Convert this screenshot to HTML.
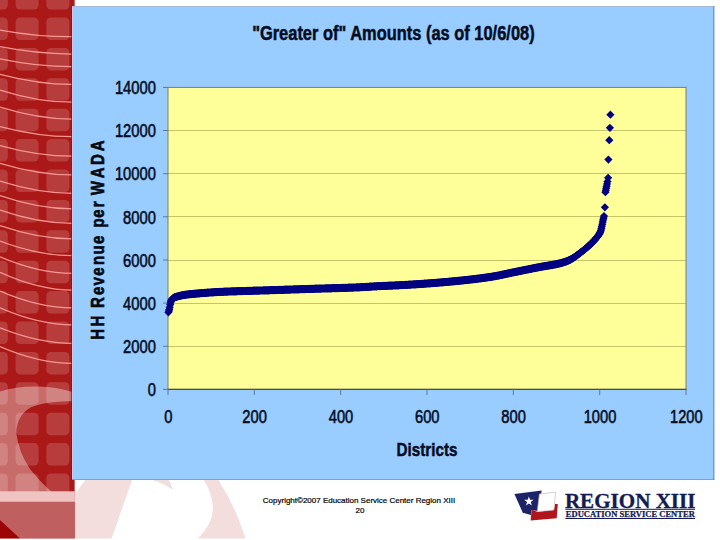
<!DOCTYPE html>
<html lang="en"><head><meta charset="utf-8"><title>"Greater of" Amounts (as of 10/6/08)</title>
<style>
html,body{margin:0;padding:0;background:#fff;}
body{width:720px;height:540px;overflow:hidden;font-family:"Liberation Sans",Arial,sans-serif;}
svg{display:block;}
.sans{font-family:"Liberation Sans",Arial,sans-serif;}
.serif{font-family:"Liberation Serif","Times New Roman",serif;}
</style></head>
<body>
<svg width="720" height="540" viewBox="0 0 720 540">
<defs>
<clipPath id="sbclip"><rect x="0" y="0" width="74.8" height="538.5"/></clipPath>
<marker id="dm" markerWidth="8" markerHeight="8" refX="4" refY="4" markerUnits="userSpaceOnUse" overflow="visible">
<path d="M4 -0.1 L8.1 4 L4 8.1 L-0.1 4 Z" fill="#000080"/></marker>
</defs>
<rect width="720" height="540" fill="#ffffff"/>

<!-- faint watermark in the white footer -->
<g fill="#f3dddd">
<path d="M85.3 480 L132 480 L111.5 538.5 L75 538.5 L75 494 Z"/>
<path d="M152.4 480 L168.6 480 Q171.5 484 172.8 489.8 Q164 483.5 152.4 480 Z"/>
<path d="M203.8 480 L218.4 480 Q236 508 245.6 538.5 L198 538.5 Q214.5 522 212.8 505 Q211 491 203.8 480 Z"/>
</g>

<!-- red sidebar -->
<g clip-path="url(#sbclip)">
<rect x="0" y="0" width="74.8" height="538.5" fill="#aa1917"/>
<g fill="#ffffff" fill-opacity="0.16"><rect x="-15.2" y="-12.9" width="23.0" height="22.5" rx="4.5"/><rect x="-15.2" y="17.5" width="23.0" height="22.5" rx="4.5"/><rect x="-15.2" y="47.9" width="23.0" height="22.5" rx="4.5"/><rect x="-15.2" y="78.3" width="23.0" height="22.5" rx="4.5"/><rect x="-15.2" y="108.7" width="23.0" height="22.5" rx="4.5"/><rect x="-15.2" y="139.1" width="23.0" height="22.5" rx="4.5"/><rect x="-15.2" y="169.5" width="23.0" height="22.5" rx="4.5"/><rect x="-15.2" y="199.9" width="23.0" height="22.5" rx="4.5"/><rect x="-15.2" y="230.3" width="23.0" height="22.5" rx="4.5"/><rect x="-15.2" y="260.7" width="23.0" height="22.5" rx="4.5"/><rect x="-15.2" y="291.1" width="23.0" height="22.5" rx="4.5"/><rect x="-15.2" y="321.5" width="23.0" height="22.5" rx="4.5"/><rect x="-15.2" y="351.9" width="23.0" height="22.5" rx="4.5"/><rect x="-15.2" y="382.3" width="23.0" height="22.5" rx="4.5"/><rect x="-15.2" y="412.7" width="23.0" height="22.5" rx="4.5"/><rect x="-15.2" y="443.1" width="23.0" height="22.5" rx="4.5"/><rect x="-15.2" y="473.5" width="23.0" height="22.5" rx="4.5"/><rect x="-15.2" y="503.9" width="23.0" height="22.5" rx="4.5"/><rect x="-15.2" y="534.3" width="23.0" height="22.5" rx="4.5"/><rect x="15.6" y="-12.9" width="23.0" height="22.5" rx="4.5"/><rect x="15.6" y="17.5" width="23.0" height="22.5" rx="4.5"/><rect x="15.6" y="47.9" width="23.0" height="22.5" rx="4.5"/><rect x="15.6" y="78.3" width="23.0" height="22.5" rx="4.5"/><rect x="15.6" y="108.7" width="23.0" height="22.5" rx="4.5"/><rect x="15.6" y="139.1" width="23.0" height="22.5" rx="4.5"/><rect x="15.6" y="169.5" width="23.0" height="22.5" rx="4.5"/><rect x="15.6" y="199.9" width="23.0" height="22.5" rx="4.5"/><rect x="15.6" y="230.3" width="23.0" height="22.5" rx="4.5"/><rect x="15.6" y="260.7" width="23.0" height="22.5" rx="4.5"/><rect x="15.6" y="291.1" width="23.0" height="22.5" rx="4.5"/><rect x="15.6" y="321.5" width="23.0" height="22.5" rx="4.5"/><rect x="15.6" y="351.9" width="23.0" height="22.5" rx="4.5"/><rect x="15.6" y="382.3" width="23.0" height="22.5" rx="4.5"/><rect x="15.6" y="412.7" width="23.0" height="22.5" rx="4.5"/><rect x="15.6" y="443.1" width="23.0" height="22.5" rx="4.5"/><rect x="15.6" y="473.5" width="23.0" height="22.5" rx="4.5"/><rect x="15.6" y="503.9" width="23.0" height="22.5" rx="4.5"/><rect x="15.6" y="534.3" width="23.0" height="22.5" rx="4.5"/><rect x="46.4" y="-12.9" width="23.0" height="22.5" rx="4.5"/><rect x="46.4" y="17.5" width="23.0" height="22.5" rx="4.5"/><rect x="46.4" y="47.9" width="23.0" height="22.5" rx="4.5"/><rect x="46.4" y="78.3" width="23.0" height="22.5" rx="4.5"/><rect x="46.4" y="108.7" width="23.0" height="22.5" rx="4.5"/><rect x="46.4" y="139.1" width="23.0" height="22.5" rx="4.5"/><rect x="46.4" y="169.5" width="23.0" height="22.5" rx="4.5"/><rect x="46.4" y="199.9" width="23.0" height="22.5" rx="4.5"/><rect x="46.4" y="230.3" width="23.0" height="22.5" rx="4.5"/><rect x="46.4" y="260.7" width="23.0" height="22.5" rx="4.5"/><rect x="46.4" y="291.1" width="23.0" height="22.5" rx="4.5"/><rect x="46.4" y="321.5" width="23.0" height="22.5" rx="4.5"/><rect x="46.4" y="351.9" width="23.0" height="22.5" rx="4.5"/><rect x="46.4" y="382.3" width="23.0" height="22.5" rx="4.5"/><rect x="46.4" y="412.7" width="23.0" height="22.5" rx="4.5"/><rect x="46.4" y="443.1" width="23.0" height="22.5" rx="4.5"/><rect x="46.4" y="473.5" width="23.0" height="22.5" rx="4.5"/><rect x="46.4" y="503.9" width="23.0" height="22.5" rx="4.5"/><rect x="46.4" y="534.3" width="23.0" height="22.5" rx="4.5"/><rect x="77.2" y="-12.9" width="23.0" height="22.5" rx="4.5"/><rect x="77.2" y="17.5" width="23.0" height="22.5" rx="4.5"/><rect x="77.2" y="47.9" width="23.0" height="22.5" rx="4.5"/><rect x="77.2" y="78.3" width="23.0" height="22.5" rx="4.5"/><rect x="77.2" y="108.7" width="23.0" height="22.5" rx="4.5"/><rect x="77.2" y="139.1" width="23.0" height="22.5" rx="4.5"/><rect x="77.2" y="169.5" width="23.0" height="22.5" rx="4.5"/><rect x="77.2" y="199.9" width="23.0" height="22.5" rx="4.5"/><rect x="77.2" y="230.3" width="23.0" height="22.5" rx="4.5"/><rect x="77.2" y="260.7" width="23.0" height="22.5" rx="4.5"/><rect x="77.2" y="291.1" width="23.0" height="22.5" rx="4.5"/><rect x="77.2" y="321.5" width="23.0" height="22.5" rx="4.5"/><rect x="77.2" y="351.9" width="23.0" height="22.5" rx="4.5"/><rect x="77.2" y="382.3" width="23.0" height="22.5" rx="4.5"/><rect x="77.2" y="412.7" width="23.0" height="22.5" rx="4.5"/><rect x="77.2" y="443.1" width="23.0" height="22.5" rx="4.5"/><rect x="77.2" y="473.5" width="23.0" height="22.5" rx="4.5"/><rect x="77.2" y="503.9" width="23.0" height="22.5" rx="4.5"/><rect x="77.2" y="534.3" width="23.0" height="22.5" rx="4.5"/></g>
<g fill="none" stroke="#ffa09c" stroke-width="1.25" stroke-opacity="0.92"><path d="M0 30.0 Q 40.0 37.2 75 36.7"/><path d="M0 46.7 Q 40.0 54.5 75 54.0"/><path d="M0 58.9 Q 40.0 67.2 75 66.7"/><path d="M0 74.4 Q 40.0 84.9 75 84.4"/><path d="M0 90.0 Q 40.0 102.7 75 102.2"/><path d="M0 107.0 Q 40.0 119.5 75 119.0"/><path d="M0 126.7 Q 40.0 137.2 75 136.7"/><path d="M0 145.6 Q 40.0 156.7 75 156.2"/><path d="M0 163.3 Q 40.0 175.4 75 174.9"/><path d="M0 181.1 Q 40.0 193.8 75 193.3"/><path d="M0 195.6 Q 40.0 209.4 75 208.9"/><path d="M0 210.0 Q 40.0 223.8 75 223.3"/><path d="M0 225.6 Q 40.0 239.4 75 238.9"/><path d="M0 241.0 Q 40.0 256.1 75 255.6"/><path d="M0 256.7 Q 40.0 273.8 75 273.3"/><path d="M0 272.2 Q 40.0 290.5 75 290.0"/><path d="M0 291.0 Q 40.0 308.3 75 307.8"/><path d="M0 307.8 Q 40.0 325.3 75 324.8"/><path d="M0 327.8 Q 40.0 343.8 75 343.3"/><path d="M0 346.5 Q 40.0 363.8 75 363.3"/></g>
<!-- light swoosh overlay -->
<path d="M0 391.5 Q18 386 38 386.6 Q58 387.2 75 392.8 L75 401 Q45 401 30.5 407.5 Q16.5 416 16.3 433 Q18.5 452 30 469 Q40 482 52 492 L0 492 Z" fill="#ffffff" fill-opacity="0.36"/>
<rect x="0" y="491.3" width="75" height="10.6" fill="#f1c4c4"/>
<rect x="0" y="501.9" width="75" height="37" fill="#c05f5f"/>
<path d="M0 520 L20 538.5 L0 538.5 Z" fill="#9c0505"/>
</g>

<!-- chart area -->
<rect x="72" y="6" width="642.3" height="474" fill="#99ccff"/>
<rect x="72" y="6" width="642.3" height="1" fill="#a6bad8"/>
<rect x="72" y="479" width="642.3" height="1" fill="#7fa2c6"/>
<rect x="713.3" y="6" width="1" height="474" fill="#6a87aa"/>
<rect x="72" y="7" width="1" height="472" fill="#c4ccf2"/>
<rect x="71" y="6" width="1" height="474" fill="#7a1420" fill-opacity="0.6"/>
<rect x="168" y="87.4" width="518" height="302" fill="#ffff99"/>
<g stroke="#c4c468" stroke-width="1" shape-rendering="crispEdges"><line x1="168" x2="686" y1="346.3" y2="346.3"/><line x1="168" x2="686" y1="303.1" y2="303.1"/><line x1="168" x2="686" y1="260.0" y2="260.0"/><line x1="168" x2="686" y1="216.8" y2="216.8"/><line x1="168" x2="686" y1="173.7" y2="173.7"/><line x1="168" x2="686" y1="130.5" y2="130.5"/></g>
<rect x="168" y="87.4" width="518" height="302" fill="none" stroke="#7e7e66" stroke-width="1"/>
<line x1="167.5" x2="686.5" y1="389.4" y2="389.4" stroke="#4e4e38" stroke-width="1.2"/>
<g stroke="#5f7897" stroke-width="1"><line x1="163" x2="168" y1="389.4" y2="389.4"/><line x1="163" x2="168" y1="346.3" y2="346.3"/><line x1="163" x2="168" y1="303.1" y2="303.1"/><line x1="163" x2="168" y1="260.0" y2="260.0"/><line x1="163" x2="168" y1="216.8" y2="216.8"/><line x1="163" x2="168" y1="173.7" y2="173.7"/><line x1="163" x2="168" y1="130.5" y2="130.5"/><line x1="163" x2="168" y1="87.4" y2="87.4"/><line x1="168.0" x2="168.0" y1="389.4" y2="395"/><line x1="254.3" x2="254.3" y1="389.4" y2="395"/><line x1="340.7" x2="340.7" y1="389.4" y2="395"/><line x1="427.0" x2="427.0" y1="389.4" y2="395"/><line x1="513.3" x2="513.3" y1="389.4" y2="395"/><line x1="599.7" x2="599.7" y1="389.4" y2="395"/><line x1="686.0" x2="686.0" y1="389.4" y2="395"/></g>
<polyline points="168.4,312.3 168.9,311.0 169.3,309.4 169.7,307.3 170.2,304.7 170.6,302.6 171.0,301.0 171.5,300.1 171.9,299.5 172.3,299.0 172.7,298.6 173.2,298.2 173.6,297.8 174.0,297.6 174.5,297.4 174.9,297.2 175.3,297.1 175.8,297.0 176.2,296.8 176.6,296.7 177.1,296.6 177.5,296.5 177.9,296.4 178.4,296.2 178.8,296.1 179.2,296.0 179.7,295.9 180.1,295.8 180.5,295.7 180.9,295.6 181.4,295.5 181.8,295.4 182.2,295.3 182.7,295.2 183.1,295.1 183.5,295.0 184.0,295.0 184.4,294.9 184.8,294.8 185.3,294.8 185.7,294.7 186.1,294.6 186.6,294.6 187.0,294.5 187.4,294.5 187.9,294.4 188.3,294.4 188.7,294.3 189.2,294.3 189.6,294.2 190.0,294.2 190.4,294.1 190.9,294.1 191.3,294.1 191.7,294.0 192.2,294.0 192.6,293.9 193.0,293.9 193.5,293.9 193.9,293.8 194.3,293.8 194.8,293.7 195.2,293.7 195.6,293.7 196.1,293.6 196.5,293.6 196.9,293.6 197.4,293.5 197.8,293.5 198.2,293.4 198.6,293.4 199.1,293.4 199.5,293.3 199.9,293.3 200.4,293.2 200.8,293.2 201.2,293.2 201.7,293.1 202.1,293.1 202.5,293.1 203.0,293.0 203.4,293.0 203.8,293.0 204.3,292.9 204.7,292.9 205.1,292.9 205.6,292.8 206.0,292.8 206.4,292.8 206.8,292.7 207.3,292.7 207.7,292.7 208.1,292.6 208.6,292.6 209.0,292.6 209.4,292.5 209.9,292.5 210.3,292.5 210.7,292.5 211.2,292.4 211.6,292.4 212.0,292.4 212.5,292.3 212.9,292.3 213.3,292.3 213.8,292.3 214.2,292.2 214.6,292.2 215.1,292.2 215.5,292.1 215.9,292.1 216.3,292.1 216.8,292.1 217.2,292.0 217.6,292.0 218.1,292.0 218.5,292.0 218.9,292.0 219.4,291.9 219.8,291.9 220.2,291.9 220.7,291.9 221.1,291.9 221.5,291.8 222.0,291.8 222.4,291.8 222.8,291.8 223.3,291.8 223.7,291.7 224.1,291.7 224.5,291.7 225.0,291.7 225.4,291.7 225.8,291.6 226.3,291.6 226.7,291.6 227.1,291.6 227.6,291.6 228.0,291.6 228.4,291.5 228.9,291.5 229.3,291.5 229.7,291.5 230.2,291.5 230.6,291.5 231.0,291.4 231.5,291.4 231.9,291.4 232.3,291.4 232.8,291.4 233.2,291.4 233.6,291.4 234.0,291.3 234.5,291.3 234.9,291.3 235.3,291.3 235.8,291.3 236.2,291.3 236.6,291.3 237.1,291.2 237.5,291.2 237.9,291.2 238.4,291.2 238.8,291.2 239.2,291.2 239.7,291.2 240.1,291.1 240.5,291.1 241.0,291.1 241.4,291.1 241.8,291.1 242.2,291.1 242.7,291.1 243.1,291.0 243.5,291.0 244.0,291.0 244.4,291.0 244.8,291.0 245.3,291.0 245.7,291.0 246.1,291.0 246.6,290.9 247.0,290.9 247.4,290.9 247.9,290.9 248.3,290.9 248.7,290.9 249.2,290.9 249.6,290.8 250.0,290.8 250.4,290.8 250.9,290.8 251.3,290.8 251.7,290.8 252.2,290.8 252.6,290.8 253.0,290.7 253.5,290.7 253.9,290.7 254.3,290.7 254.8,290.7 255.2,290.7 255.6,290.7 256.1,290.7 256.5,290.6 256.9,290.6 257.4,290.6 257.8,290.6 258.2,290.6 258.6,290.6 259.1,290.6 259.5,290.6 259.9,290.5 260.4,290.5 260.8,290.5 261.2,290.5 261.7,290.5 262.1,290.5 262.5,290.5 263.0,290.5 263.4,290.4 263.8,290.4 264.3,290.4 264.7,290.4 265.1,290.4 265.6,290.4 266.0,290.4 266.4,290.3 266.9,290.3 267.3,290.3 267.7,290.3 268.1,290.3 268.6,290.3 269.0,290.3 269.4,290.3 269.9,290.2 270.3,290.2 270.7,290.2 271.2,290.2 271.6,290.2 272.0,290.2 272.5,290.2 272.9,290.1 273.3,290.1 273.8,290.1 274.2,290.1 274.6,290.1 275.1,290.1 275.5,290.1 275.9,290.0 276.3,290.0 276.8,290.0 277.2,290.0 277.6,290.0 278.1,290.0 278.5,289.9 278.9,289.9 279.4,289.9 279.8,289.9 280.2,289.9 280.7,289.9 281.1,289.9 281.5,289.8 282.0,289.8 282.4,289.8 282.8,289.8 283.3,289.8 283.7,289.8 284.1,289.8 284.6,289.7 285.0,289.7 285.4,289.7 285.8,289.7 286.3,289.7 286.7,289.7 287.1,289.7 287.6,289.6 288.0,289.6 288.4,289.6 288.9,289.6 289.3,289.6 289.7,289.6 290.2,289.6 290.6,289.5 291.0,289.5 291.5,289.5 291.9,289.5 292.3,289.5 292.8,289.5 293.2,289.5 293.6,289.4 294.0,289.4 294.5,289.4 294.9,289.4 295.3,289.4 295.8,289.4 296.2,289.4 296.6,289.3 297.1,289.3 297.5,289.3 297.9,289.3 298.4,289.3 298.8,289.3 299.2,289.3 299.7,289.2 300.1,289.2 300.5,289.2 301.0,289.2 301.4,289.2 301.8,289.2 302.2,289.2 302.7,289.1 303.1,289.1 303.5,289.1 304.0,289.1 304.4,289.1 304.8,289.1 305.3,289.1 305.7,289.0 306.1,289.0 306.6,289.0 307.0,289.0 307.4,289.0 307.9,289.0 308.3,289.0 308.7,288.9 309.2,288.9 309.6,288.9 310.0,288.9 310.4,288.9 310.9,288.9 311.3,288.9 311.7,288.8 312.2,288.8 312.6,288.8 313.0,288.8 313.5,288.8 313.9,288.8 314.3,288.8 314.8,288.7 315.2,288.7 315.6,288.7 316.1,288.7 316.5,288.7 316.9,288.7 317.4,288.7 317.8,288.7 318.2,288.6 318.7,288.6 319.1,288.6 319.5,288.6 319.9,288.6 320.4,288.6 320.8,288.6 321.2,288.6 321.7,288.5 322.1,288.5 322.5,288.5 323.0,288.5 323.4,288.5 323.8,288.5 324.3,288.5 324.7,288.5 325.1,288.4 325.6,288.4 326.0,288.4 326.4,288.4 326.9,288.4 327.3,288.4 327.7,288.4 328.1,288.4 328.6,288.3 329.0,288.3 329.4,288.3 329.9,288.3 330.3,288.3 330.7,288.3 331.2,288.3 331.6,288.3 332.0,288.2 332.5,288.2 332.9,288.2 333.3,288.2 333.8,288.2 334.2,288.2 334.6,288.2 335.1,288.2 335.5,288.1 335.9,288.1 336.4,288.1 336.8,288.1 337.2,288.1 337.6,288.1 338.1,288.1 338.5,288.1 338.9,288.0 339.4,288.0 339.8,288.0 340.2,288.0 340.7,288.0 341.1,288.0 341.5,288.0 342.0,287.9 342.4,287.9 342.8,287.9 343.3,287.9 343.7,287.9 344.1,287.9 344.6,287.9 345.0,287.8 345.4,287.8 345.8,287.8 346.3,287.8 346.7,287.8 347.1,287.8 347.6,287.8 348.0,287.7 348.4,287.7 348.9,287.7 349.3,287.7 349.7,287.7 350.2,287.7 350.6,287.7 351.0,287.6 351.5,287.6 351.9,287.6 352.3,287.6 352.8,287.6 353.2,287.6 353.6,287.5 354.0,287.5 354.5,287.5 354.9,287.5 355.3,287.5 355.8,287.5 356.2,287.4 356.6,287.4 357.1,287.4 357.5,287.4 357.9,287.4 358.4,287.3 358.8,287.3 359.2,287.3 359.7,287.3 360.1,287.3 360.5,287.2 361.0,287.2 361.4,287.2 361.8,287.2 362.2,287.1 362.7,287.1 363.1,287.1 363.5,287.1 364.0,287.0 364.4,287.0 364.8,287.0 365.3,287.0 365.7,286.9 366.1,286.9 366.6,286.9 367.0,286.9 367.4,286.8 367.9,286.8 368.3,286.8 368.7,286.8 369.2,286.7 369.6,286.7 370.0,286.7 370.5,286.7 370.9,286.6 371.3,286.6 371.7,286.6 372.2,286.5 372.6,286.5 373.0,286.5 373.5,286.5 373.9,286.4 374.3,286.4 374.8,286.4 375.2,286.4 375.6,286.3 376.1,286.3 376.5,286.3 376.9,286.3 377.4,286.2 377.8,286.2 378.2,286.2 378.7,286.2 379.1,286.1 379.5,286.1 379.9,286.1 380.4,286.1 380.8,286.1 381.2,286.0 381.7,286.0 382.1,286.0 382.5,286.0 383.0,286.0 383.4,285.9 383.8,285.9 384.3,285.9 384.7,285.9 385.1,285.9 385.6,285.8 386.0,285.8 386.4,285.8 386.9,285.8 387.3,285.8 387.7,285.8 388.1,285.7 388.6,285.7 389.0,285.7 389.4,285.7 389.9,285.7 390.3,285.6 390.7,285.6 391.2,285.6 391.6,285.6 392.0,285.6 392.5,285.6 392.9,285.5 393.3,285.5 393.8,285.5 394.2,285.5 394.6,285.5 395.1,285.4 395.5,285.4 395.9,285.4 396.4,285.4 396.8,285.4 397.2,285.3 397.6,285.3 398.1,285.3 398.5,285.3 398.9,285.3 399.4,285.2 399.8,285.2 400.2,285.2 400.7,285.2 401.1,285.1 401.5,285.1 402.0,285.1 402.4,285.1 402.8,285.0 403.3,285.0 403.7,285.0 404.1,285.0 404.6,285.0 405.0,284.9 405.4,284.9 405.8,284.9 406.3,284.9 406.7,284.8 407.1,284.8 407.6,284.8 408.0,284.8 408.4,284.7 408.9,284.7 409.3,284.7 409.7,284.7 410.2,284.6 410.6,284.6 411.0,284.6 411.5,284.5 411.9,284.5 412.3,284.5 412.8,284.5 413.2,284.4 413.6,284.4 414.0,284.4 414.5,284.4 414.9,284.3 415.3,284.3 415.8,284.3 416.2,284.3 416.6,284.2 417.1,284.2 417.5,284.2 417.9,284.1 418.4,284.1 418.8,284.1 419.2,284.1 419.7,284.0 420.1,284.0 420.5,284.0 421.0,283.9 421.4,283.9 421.8,283.9 422.3,283.8 422.7,283.8 423.1,283.8 423.5,283.8 424.0,283.7 424.4,283.7 424.8,283.7 425.3,283.6 425.7,283.6 426.1,283.6 426.6,283.5 427.0,283.5 427.4,283.5 427.9,283.4 428.3,283.4 428.7,283.4 429.2,283.4 429.6,283.3 430.0,283.3 430.5,283.3 430.9,283.2 431.3,283.2 431.7,283.2 432.2,283.1 432.6,283.1 433.0,283.1 433.5,283.0 433.9,283.0 434.3,283.0 434.8,282.9 435.2,282.9 435.6,282.9 436.1,282.8 436.5,282.8 436.9,282.8 437.4,282.7 437.8,282.7 438.2,282.6 438.7,282.6 439.1,282.6 439.5,282.5 439.9,282.5 440.4,282.5 440.8,282.4 441.2,282.4 441.7,282.4 442.1,282.3 442.5,282.3 443.0,282.3 443.4,282.2 443.8,282.2 444.3,282.1 444.7,282.1 445.1,282.1 445.6,282.0 446.0,282.0 446.4,282.0 446.9,281.9 447.3,281.9 447.7,281.8 448.2,281.8 448.6,281.8 449.0,281.7 449.4,281.7 449.9,281.6 450.3,281.6 450.7,281.6 451.2,281.5 451.6,281.5 452.0,281.4 452.5,281.4 452.9,281.4 453.3,281.3 453.8,281.3 454.2,281.2 454.6,281.2 455.1,281.2 455.5,281.1 455.9,281.1 456.4,281.0 456.8,281.0 457.2,280.9 457.6,280.9 458.1,280.9 458.5,280.8 458.9,280.8 459.4,280.7 459.8,280.7 460.2,280.6 460.7,280.6 461.1,280.6 461.5,280.5 462.0,280.5 462.4,280.4 462.8,280.4 463.3,280.3 463.7,280.3 464.1,280.2 464.6,280.2 465.0,280.1 465.4,280.1 465.8,280.1 466.3,280.0 466.7,280.0 467.1,279.9 467.6,279.9 468.0,279.8 468.4,279.8 468.9,279.7 469.3,279.7 469.7,279.6 470.2,279.6 470.6,279.5 471.0,279.5 471.5,279.4 471.9,279.4 472.3,279.3 472.8,279.3 473.2,279.2 473.6,279.2 474.1,279.1 474.5,279.1 474.9,279.0 475.3,279.0 475.8,278.9 476.2,278.9 476.6,278.8 477.1,278.7 477.5,278.7 477.9,278.6 478.4,278.6 478.8,278.5 479.2,278.5 479.7,278.4 480.1,278.4 480.5,278.3 481.0,278.3 481.4,278.2 481.8,278.1 482.3,278.1 482.7,278.0 483.1,278.0 483.5,277.9 484.0,277.9 484.4,277.8 484.8,277.7 485.3,277.7 485.7,277.6 486.1,277.6 486.6,277.5 487.0,277.4 487.4,277.4 487.9,277.3 488.3,277.2 488.7,277.2 489.2,277.1 489.6,277.1 490.0,277.0 490.5,276.9 490.9,276.9 491.3,276.8 491.8,276.7 492.2,276.7 492.6,276.6 493.0,276.5 493.5,276.4 493.9,276.4 494.3,276.3 494.8,276.2 495.2,276.1 495.6,276.1 496.1,276.0 496.5,275.9 496.9,275.8 497.4,275.7 497.8,275.6 498.2,275.6 498.7,275.5 499.1,275.4 499.5,275.3 500.0,275.2 500.4,275.1 500.8,275.0 501.2,274.9 501.7,274.8 502.1,274.7 502.5,274.7 503.0,274.6 503.4,274.5 503.8,274.4 504.3,274.3 504.7,274.2 505.1,274.1 505.6,274.0 506.0,273.9 506.4,273.8 506.9,273.7 507.3,273.6 507.7,273.5 508.2,273.4 508.6,273.3 509.0,273.3 509.4,273.2 509.9,273.1 510.3,273.0 510.7,272.9 511.2,272.8 511.6,272.7 512.0,272.6 512.5,272.5 512.9,272.4 513.3,272.3 513.8,272.3 514.2,272.2 514.6,272.1 515.1,272.0 515.5,271.9 515.9,271.8 516.4,271.7 516.8,271.6 517.2,271.6 517.6,271.5 518.1,271.4 518.5,271.3 518.9,271.2 519.4,271.1 519.8,271.0 520.2,270.9 520.7,270.9 521.1,270.8 521.5,270.7 522.0,270.6 522.4,270.5 522.8,270.4 523.3,270.3 523.7,270.2 524.1,270.2 524.6,270.1 525.0,270.0 525.4,269.9 525.9,269.8 526.3,269.7 526.7,269.6 527.1,269.5 527.6,269.5 528.0,269.4 528.4,269.3 528.9,269.2 529.3,269.1 529.7,269.0 530.2,268.9 530.6,268.9 531.0,268.8 531.5,268.7 531.9,268.6 532.3,268.5 532.8,268.4 533.2,268.3 533.6,268.2 534.1,268.2 534.5,268.1 534.9,268.0 535.3,267.9 535.8,267.8 536.2,267.7 536.6,267.7 537.1,267.6 537.5,267.5 537.9,267.4 538.4,267.3 538.8,267.2 539.2,267.1 539.7,267.1 540.1,267.0 540.5,266.9 541.0,266.8 541.4,266.7 541.8,266.7 542.3,266.6 542.7,266.5 543.1,266.4 543.5,266.4 544.0,266.3 544.4,266.2 544.8,266.1 545.3,266.1 545.7,266.0 546.1,265.9 546.6,265.9 547.0,265.8 547.4,265.7 547.9,265.6 548.3,265.6 548.7,265.5 549.2,265.4 549.6,265.4 550.0,265.3 550.5,265.2 550.9,265.1 551.3,265.1 551.8,265.0 552.2,264.9 552.6,264.8 553.0,264.8 553.5,264.7 553.9,264.6 554.3,264.5 554.8,264.4 555.2,264.4 555.6,264.3 556.1,264.2 556.5,264.1 556.9,264.0 557.4,263.9 557.8,263.8 558.2,263.7 558.7,263.6 559.1,263.5 559.5,263.4 560.0,263.3 560.4,263.2 560.8,263.1 561.2,263.0 561.7,262.9 562.1,262.7 562.5,262.6 563.0,262.5 563.4,262.3 563.8,262.2 564.3,262.1 564.7,261.9 565.1,261.8 565.6,261.6 566.0,261.5 566.4,261.3 566.9,261.1 567.3,261.0 567.7,260.8 568.2,260.6 568.6,260.4 569.0,260.2 569.5,260.1 569.9,259.9 570.3,259.7 570.7,259.4 571.2,259.2 571.6,259.0 572.0,258.7 572.5,258.5 572.9,258.2 573.3,257.9 573.8,257.6 574.2,257.3 574.6,257.0 575.1,256.7 575.5,256.4 575.9,256.1 576.4,255.8 576.8,255.4 577.2,255.1 577.7,254.8 578.1,254.5 578.5,254.1 578.9,253.8 579.4,253.5 579.8,253.1 580.2,252.8 580.7,252.5 581.1,252.2 581.5,251.8 582.0,251.5 582.4,251.2 582.8,250.8 583.3,250.5 583.7,250.2 584.1,249.8 584.6,249.5 585.0,249.1 585.4,248.7 585.9,248.4 586.3,248.0 586.7,247.7 587.1,247.3 587.6,246.9 588.0,246.5 588.4,246.1 588.9,245.7 589.3,245.3 589.7,244.9 590.2,244.5 590.6,244.1 591.0,243.7 591.5,243.3 591.9,242.9 592.3,242.4 592.8,242.0 593.2,241.6 593.6,241.1 594.1,240.6 594.5,240.2 594.9,239.7 595.3,239.2 595.8,238.7 596.2,238.1 596.6,237.6 597.1,237.0 597.5,236.5 597.9,235.9 598.4,235.3 598.8,234.7 599.2,234.0 599.7,233.3 600.1,232.4 600.5,231.4 601.0,230.0 601.4,228.3 601.8,226.3 602.3,224.3 602.7,222.1 603.1,219.9 603.6,217.9 604.0,216.1 604.9,207.3 605.4,192.2 605.8,190.3 606.2,188.2 606.6,186.3 607.0,184.0 607.5,181.6 608.1,177.8 608.4,159.6 609.3,140.2 609.9,127.8 610.4,114.7" fill="none" stroke="none" marker-start="url(#dm)" marker-mid="url(#dm)" marker-end="url(#dm)"/>

<g class="sans" font-size="18.9" fill="#060c22" stroke="#060c22" stroke-width="0.6"><text x="155.9" y="396.1" text-anchor="end" textLength="8.2" lengthAdjust="spacingAndGlyphs">0</text><text x="155.9" y="353.0" text-anchor="end" textLength="32.8" lengthAdjust="spacingAndGlyphs">2000</text><text x="155.9" y="309.8" text-anchor="end" textLength="32.8" lengthAdjust="spacingAndGlyphs">4000</text><text x="155.9" y="266.7" text-anchor="end" textLength="32.8" lengthAdjust="spacingAndGlyphs">6000</text><text x="155.9" y="223.5" text-anchor="end" textLength="32.8" lengthAdjust="spacingAndGlyphs">8000</text><text x="155.9" y="180.4" text-anchor="end" textLength="41.0" lengthAdjust="spacingAndGlyphs">10000</text><text x="155.9" y="137.2" text-anchor="end" textLength="41.0" lengthAdjust="spacingAndGlyphs">12000</text><text x="155.9" y="94.1" text-anchor="end" textLength="41.0" lengthAdjust="spacingAndGlyphs">14000</text><text x="168.3" y="422.6" text-anchor="middle" textLength="8.2" lengthAdjust="spacingAndGlyphs">0</text><text x="254.6" y="422.6" text-anchor="middle" textLength="24.5" lengthAdjust="spacingAndGlyphs">200</text><text x="341.0" y="422.6" text-anchor="middle" textLength="24.5" lengthAdjust="spacingAndGlyphs">400</text><text x="427.3" y="422.6" text-anchor="middle" textLength="24.5" lengthAdjust="spacingAndGlyphs">600</text><text x="513.6" y="422.6" text-anchor="middle" textLength="24.5" lengthAdjust="spacingAndGlyphs">800</text><text x="600.0" y="422.6" text-anchor="middle" textLength="32.6" lengthAdjust="spacingAndGlyphs">1000</text><text x="686.3" y="422.6" text-anchor="middle" textLength="32.6" lengthAdjust="spacingAndGlyphs">1200</text></g>
<text class="sans" x="393.4" y="40.2" font-size="20" font-weight="bold" fill="#060c22" stroke="#060c22" stroke-width="0.5" text-anchor="middle" textLength="282.5" lengthAdjust="spacingAndGlyphs">"Greater of" Amounts (as of 10/6/08)</text>
<text class="sans" x="427" y="455.8" font-size="19.1" font-weight="bold" fill="#060c22" stroke="#060c22" stroke-width="0.5" text-anchor="middle" textLength="61" lengthAdjust="spacingAndGlyphs">Districts</text>
<g transform="translate(104 339.7) rotate(-90) scale(0.82 1)">
<text class="sans" x="-0.1 16.2 29.5 38.7 54.5 66.1 78.1 91.0 104.0 116.8 127.0 136.7 148.6 161.4 168.6 176.3 196.9 213.1 229.8" y="0" font-size="18.4" font-weight="bold" fill="#05080f" stroke="#05080f" stroke-width="0.6">HH Revenue per WADA</text>
</g>

<!-- footer -->
<text class="sans" x="359" y="502.6" font-size="8" fill="#000" stroke="#000" stroke-width="0.2" text-anchor="middle" textLength="192.3" lengthAdjust="spacingAndGlyphs">Copyright©2007 Education Service Center Region XIII</text>
<text class="sans" x="360" y="512.8" font-size="8" fill="#000" stroke="#000" stroke-width="0.2" text-anchor="middle">20</text>

<!-- logo -->
<g>
<path d="M514.4 493.9 L541.7 490.6 L538 511 L531.5 510 L531 515 L522.8 512.8 Z" fill="#1a2466"/>
<path d="M531.7 509.4 L537.2 511.7 L553.9 510 L555 503.9 L557.8 503.9 L556.7 518.3 L530.6 520.6 Z" fill="#b0141c"/>
<path d="M539.4 493.9 L555.6 492.2 L553.9 510 L537.2 511.7 Z" fill="#ffffff" stroke="#c9a9b0" stroke-width="0.6"/>
<path d="M528.9 496.5 L530.05 499.85 L533.6 499.85 L530.75 502 L531.8 505.45 L528.9 503.4 L526 505.45 L527.05 502 L524.2 499.85 L527.75 499.85 Z" fill="#ffffff"/>
<text class="serif" x="564.9" y="507.5" font-size="21" font-weight="bold" fill="#141a52" stroke="#141a52" stroke-width="0.3" textLength="130.6" lengthAdjust="spacingAndGlyphs">REGION XIII</text>
<rect x="565.4" y="508.8" width="129.6" height="1" fill="#141a52"/>
<text class="serif" x="565.8" y="517.3" font-size="8.9" font-weight="bold" fill="#141a52" stroke="#141a52" stroke-width="0.25" textLength="129" lengthAdjust="spacingAndGlyphs">EDUCATION SERVICE CENTER</text>
<rect x="565.4" y="518" width="129.6" height="1" fill="#141a52"/>
</g>
</svg>
</body></html>
